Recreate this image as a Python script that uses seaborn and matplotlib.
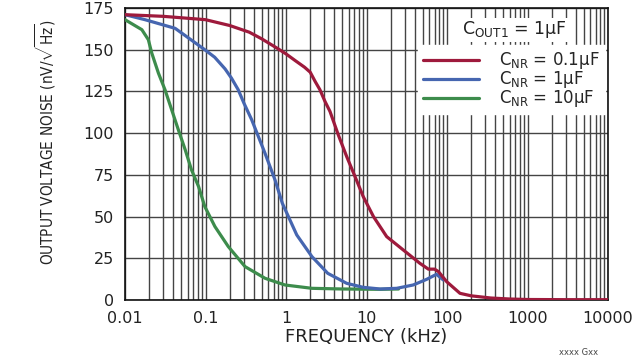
import pandas as pd
import matplotlib
matplotlib.use("Agg")
import matplotlib.pyplot as plt
import numpy as np
import seaborn as sns
from matplotlib.ticker import FixedLocator, FixedFormatter, LogLocator, NullFormatter

# values (frequency in kHz, noise in nV/rtHz)
freq_01 = [0.01, 0.03, 0.1, 0.2, 0.35, 0.5, 0.77, 1.0, 1.3, 1.7, 2.0, 2.3, 2.64, 3.05, 3.52,
           4.46, 5.67, 7.2, 9.1, 12.2, 17.8, 28.6, 46, 58.7, 70, 78.4, 99, 145, 200, 350,
           600, 1000, 3000, 10000]
noise_01 = [171, 170, 168, 164.5, 160.5, 156.5, 151, 147.5, 143.5, 139.5, 136.5, 131, 126,
            119, 113, 99, 86, 74, 62, 50, 38, 30, 22, 18.5, 18.5, 17, 11, 4, 2.5, 1.2,
            0.6, 0.3, 0.2, 0.2]

freq_1 = [0.01, 0.0177, 0.042, 0.098, 0.13, 0.175, 0.21, 0.255, 0.3, 0.375, 0.548, 0.73,
          0.9, 1.36, 2.1, 3.3, 5.67, 9.1, 14.7, 23.7, 38, 56, 74, 90]
noise_1 = [171, 168, 162.8, 150, 145.5, 138.5, 133, 126, 118, 108, 88, 72,
           58, 39, 26, 16, 10, 7.6, 6.6, 7, 9, 12.4, 15.4, 12]

freq_10 = [0.01, 0.0162, 0.0195, 0.0215, 0.026, 0.0314, 0.038, 0.046, 0.056, 0.067,
           0.082, 0.098, 0.131, 0.192, 0.31, 0.55, 0.97, 2.1, 5, 14.7, 25]
noise_10 = [168, 162, 156, 148, 136, 126, 114, 102, 90, 78,
            68, 56, 44, 32, 20, 13, 9, 7, 6.6, 6.4, 6.6]

labels = [r"$\mathregular{C_{NR}}$ = 0.1µF", r"$\mathregular{C_{NR}}$ = 1µF",
          r"$\mathregular{C_{NR}}$ = 10µF"]
colors = ["#9e1a3c", "#4666b0", "#3d8c4c"]
x_ticks = [0.01, 0.1, 1, 10, 100, 1000, 10000]
x_tick_labels = ["0.01", "0.1", "1", "10", "100", "1000", "10000"]
y_ticks = [0, 25, 50, 75, 100, 125, 150, 175]

sns.set_style("white")
plt.rcParams["font.family"] = ["DejaVu Sans"]
plt.rcParams["mathtext.fontset"] = "custom"
plt.rcParams["mathtext.rm"] = "DejaVu Sans"

fig = plt.figure(figsize=(6.4, 3.6), dpi=100)
ax = fig.add_axes([125 / 640, 60 / 360, 483 / 640, 292 / 360])

series = [(freq_10, noise_10, labels[2], colors[2]),
          (freq_1, noise_1, labels[1], colors[1]),
          (freq_01, noise_01, labels[0], colors[0])]
for f, n, lab, col in series:
    df = pd.DataFrame({"f": f, "n": n})
    sns.lineplot(data=df, x="f", y="n", ax=ax, color=col, linewidth=2.3, label=lab,
                 sort=False, zorder=3)

ax.set_xscale("log")
ax.set_xlim(0.01, 10000)
ax.set_ylim(0, 175)
ax.xaxis.set_major_locator(FixedLocator(x_ticks))
ax.xaxis.set_major_formatter(FixedFormatter(x_tick_labels))
ax.xaxis.set_minor_locator(LogLocator(base=10, subs=np.arange(2, 10)))
ax.xaxis.set_minor_formatter(NullFormatter())
ax.set_yticks(y_ticks)
ax.grid(True, which="both", axis="x", color="#444444", linewidth=1.0)
ax.grid(True, which="major", axis="y", color="#444444", linewidth=1.0)
ax.tick_params(which="both", length=0, labelsize=11.5, colors="#222222")
ax.tick_params(axis="x", pad=8)
ax.tick_params(axis="y", pad=8)
for s in ax.spines.values():
    s.set_color("#111111")
    s.set_linewidth(1.2)

ax.set_xlabel("FREQUENCY (kHz)", fontsize=13, color="#222222", labelpad=1)
ax.set_ylabel(r"OUTPUT VOLTAGE NOISE (nV/$\sqrt{\mathregular{Hz}}$)", fontsize=11,
              color="#222222", fontstretch="condensed")
ax.yaxis.set_label_coords(-0.138, 0.54)

h, l = ax.get_legend_handles_labels()
order = [l.index(x) for x in labels]
leg = ax.legend([h[i] for i in order], [l[i] for i in order], loc="upper right",
                bbox_to_anchor=(0.994, 0.872), fontsize=12, frameon=True, fancybox=False,
                framealpha=1, edgecolor="white", facecolor="white", handlelength=3.4,
                handletextpad=1.2, labelspacing=-0.12, borderpad=0.3, borderaxespad=0)
leg.set_zorder(5)
ax.text(0.807, 0.925, r"$\mathregular{C_{OUT1}}$ = 1µF", transform=ax.transAxes,
        ha="center", va="center", fontsize=12.5, color="#222222", zorder=6,
        bbox=dict(facecolor="white", edgecolor="none", pad=1))

fig.text(0.934, 0.02, "xxxx Gxx", ha="right", va="center", fontsize=6, color="#444444")

fig.savefig("out.png", dpi=100)
